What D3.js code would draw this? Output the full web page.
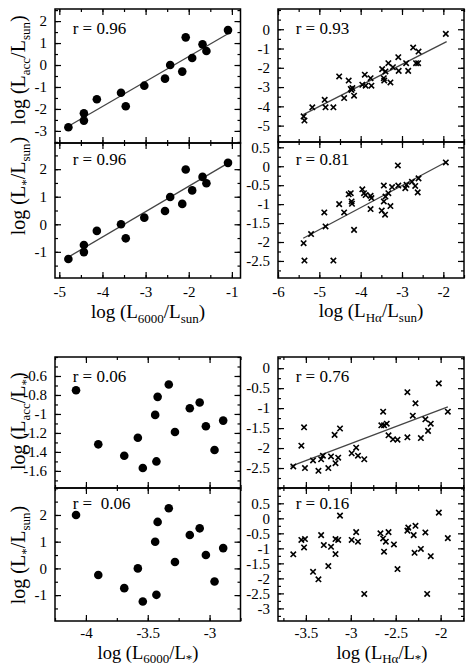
<!DOCTYPE html>
<html>
<head>
<meta charset="utf-8">
<script src="https://cdn.jsdelivr.net/npm/d3@7"></script>
<style>
body { margin:0; background:#fff; }
svg { display:block; }
svg text { font-family:"Liberation Serif","Times New Roman",Times,"DejaVu Serif",serif; }
</style>
</head>
<body>
<svg id="drawing_region"></svg>
<script>
// ---- data ----
// top-left pair: log(L6000/Lsun) vs log(Lacc/Lsun) and log(L*/Lsun)
const l6000Sun = [-4.79,-4.43,-4.43,-4.13,-3.57,-3.46,-3.03,-2.55,-2.43,-2.15,-2.07,-1.92,-1.68,-1.59,-1.09];
const accSun   = [-2.83,-2.20,-2.53,-1.56,-1.26,-1.88,-0.94,-0.62,0.00,-0.30,1.26,0.32,0.94,0.64,1.59];
const starSun  = [-1.26,-0.75,-1.01,-0.24,0.00,-0.51,0.24,0.48,0.99,0.74,1.99,1.23,1.72,1.49,2.23];
const fitAccSun  = [[-4.8,-2.8],[-1.05,1.47]];
const fitStarSun = [[-4.8,-1.2],[-1.0,2.3]];

// top-right pair: log(LHa/Lsun)
const haSunC  = [-5.38,-5.36,-5.17,-4.87,-4.85,-4.66,-4.52,-4.40,-4.29,-4.24,-4.22,-4.20,-4.16,-3.96,-3.90,-3.88,-3.76,-3.74,-3.48,-3.44,-3.43,-3.40,-3.33,-3.28,-3.22,-3.09,-3.08,-2.90,-2.85,-2.73,-2.66,-2.61,-2.60,-1.94];
const accSunC = [-4.52,-4.74,-4.05,-3.66,-4.05,-4.05,-2.45,-3.57,-2.66,-3.10,-3.15,-3.05,-3.45,-2.88,-2.36,-2.93,-2.54,-2.93,-2.07,-2.54,-2.66,-2.19,-1.76,-2.76,-1.97,-1.45,-2.16,-1.76,-2.16,-0.95,-1.76,-1.76,-1.16,-0.24];
const fitHaAcc = [[-5.39,-4.43],[-1.92,-0.64]];
const haSunD   = [-5.38,-5.36,-5.20,-4.88,-4.85,-4.66,-4.52,-4.40,-4.29,-4.24,-4.22,-4.21,-4.16,-3.96,-3.92,-3.88,-3.76,-3.76,-3.74,-3.49,-3.44,-3.44,-3.41,-3.40,-3.33,-3.28,-3.24,-3.10,-3.09,-2.92,-2.89,-2.76,-2.68,-2.62,-2.60,-1.94];
const starSunD = [-2.03,-2.49,-1.79,-1.22,-1.59,-2.49,-1.00,-1.22,-0.74,-0.71,-0.93,-0.99,-1.68,-0.61,-0.71,-0.76,-0.78,-1.13,-0.84,-1.17,-0.51,-0.93,-1.28,-0.80,-0.71,-1.05,-0.55,0.02,-0.51,-0.58,-0.49,-0.41,-0.52,-0.69,-0.32,0.10];
const fitHaStar = [[-5.39,-1.90],[-1.92,0.12]];

// bottom-left pair: log(L6000/L*)
const l6000Star = [-4.08,-3.90,-3.69,-3.58,-3.54,-3.44,-3.42,-3.43,-3.33,-3.28,-3.16,-3.08,-3.03,-2.96,-2.89];
const accStar   = [-0.75,-1.32,-1.44,-1.25,-1.57,-1.01,-0.82,-1.50,-0.69,-1.19,-0.94,-0.88,-1.13,-1.38,-1.07];
const starSunF  = [2.00,-0.25,-0.74,0.00,-1.24,1.00,1.74,-0.99,2.25,0.24,1.25,1.50,0.50,-0.49,0.76];

// bottom-right pair: log(LHa/L*)
const haStarG  = [-3.64,-3.55,-3.52,-3.51,-3.42,-3.36,-3.33,-3.31,-3.25,-3.22,-3.18,-3.17,-3.14,-3.12,-2.99,-2.94,-2.92,-2.85,-2.66,-2.64,-2.63,-2.60,-2.58,-2.53,-2.48,-2.37,-2.37,-2.31,-2.28,-2.22,-2.17,-2.14,-2.11,-2.02,-1.92];
const accStarG = [-2.46,-1.94,-1.48,-2.50,-2.31,-2.57,-2.28,-2.19,-2.50,-2.21,-1.67,-2.38,-2.24,-1.51,-2.13,-1.99,-2.19,-2.28,-1.43,-1.09,-1.43,-1.39,-1.68,-1.78,-1.79,-0.60,-1.73,-1.19,-0.88,-1.75,-1.28,-1.57,-1.39,-0.38,-1.09];
const fitHaStarAcc = [[-3.67,-2.46],[-1.92,-0.97]];
const haStarH   = [-3.64,-3.55,-3.51,-3.52,-3.42,-3.36,-3.33,-3.30,-3.25,-3.22,-3.17,-3.17,-3.14,-3.12,-2.99,-2.94,-2.92,-2.85,-2.67,-2.64,-2.63,-2.61,-2.58,-2.52,-2.48,-2.37,-2.36,-2.30,-2.28,-2.29,-2.22,-2.17,-2.15,-2.11,-2.02,-1.92];
const starSunH  = [-1.20,-0.72,-0.69,-0.97,-1.78,-2.03,-0.56,-0.89,-1.59,-0.95,-1.19,-0.69,-0.72,0.09,-0.72,-0.46,-0.78,-2.52,-0.50,-0.67,-1.11,-0.78,-0.46,-0.87,-1.69,-0.41,-0.31,-0.56,-0.25,-1.15,-1.02,-0.47,-2.52,-1.26,0.19,-0.66];

// correlation labels
const rLabels = ["r = 0.96","r = 0.96","r = 0.93","r = 0.81","r = 0.06","r =  0.06","r = 0.76","r = 0.16"];

// tick labels
const xTicks6000Sun = [-5,-4,-3,-2,-1];
const xTicksHaSun   = [-6,-5,-4,-3,-2];
const xTicks6000Star = [-4,-3.5,-3];
const xTicksHaStar   = [-3.5,-3,-2.5,-2];
const yTicksA = [-3,-2,-1,0,1,2];
const yTicksB = [-1,0,1,2];
const yTicksC = [-5,-4,-3,-2,-1,0];
const yTicksD = [-2.5,-2,-1.5,-1,-0.5,0,0.5];
const yTicksE = [-1.6,-1.4,-1.2,-1,-0.8,-0.6];
const yTicksF = [-1,0,1,2];
const yTicksG = [-2.5,-2,-1.5,-1,-0.5,0];
const yTicksH = [-3,-2.5,-2,-1.5,-1,-0.5,0,0.5];

// axis titles: [text, isSubscript]
const xTitleTL = [["log (L",0],["6000",1],["/L",0],["sun",1],[")",0]];
const xTitleTR = [["log (L",0],["H\u03b1",1],["/L",0],["sun",1],[")",0]];
const xTitleBL = [["log (L",0],["6000",1],["/L",0],["*",1],[")",0]];
const xTitleBR = [["log (L",0],["H\u03b1",1],["/L",0],["*",1],[")",0]];
const yTitleA = [["log (L",0],["acc",1],["/L",0],["sun",1],[")",0]];
const yTitleB = [["log (L",0],["*",1],["/L",0],["sun",1],[")",0]];
const yTitleE = [["log (L",0],["acc",1],["/L",0],["*",1],[")",0]];
const yTitleF = [["log (L",0],["*",1],["/L",0],["sun",1],[")",0]];

// ---- layout ----
const W = 469, H = 665;
const LX = [55, 240.5], RX = [278, 464];
const serif = '"Liberation Serif","Times New Roman",Times,"DejaVu Serif",serif';

const panels = [
  {x:LX, y:[9,143],   xd:[-5.1,-0.8],  yd:[-3.55,2.55], xs:l6000Sun, ys:accSun, mark:'dot', fit:fitAccSun, r:rLabels[0], rdy:25, xt:xTicks6000Sun, xm:0.5, yt:yTicksA, ym:0.5, xlab:false},
  {x:LX, y:[143,278], xd:[-5.1,-0.8],  yd:[-1.95,2.95], xs:l6000Sun, ys:starSun, mark:'dot', fit:fitStarSun, r:rLabels[1], rdy:22, xt:xTicks6000Sun, xm:0.5, yt:yTicksB, ym:0.5, xlab:true, xpad:8},
  {x:RX, y:[9,142],   xd:[-6,-1.5],    yd:[-5.85,1.05], xs:haSunC, ys:accSunC, mark:'x', fit:fitHaAcc, r:rLabels[2], rdy:25, xt:xTicksHaSun, xm:0.5, yt:yTicksC, ym:0.5, xlab:false},
  {x:RX, y:[142,278], xd:[-6,-1.5],    yd:[-2.95,0.64], xs:haSunD, ys:starSunD, mark:'x', fit:fitHaStar, r:rLabels[3], rdy:23, xt:xTicksHaSun, xm:0.5, yt:yTicksD, ym:0.25, xlab:true, xpad:8},
  {x:LX, y:[357,488], xd:[-4.25,-2.75], yd:[-1.78,-0.4], xs:l6000Star, ys:accStar, mark:'dot', fit:null, r:rLabels[4], rdy:25, xt:xTicks6000Star, xm:0.25, yt:yTicksE, ym:0.1, xlab:false},
  {x:LX, y:[488,621], xd:[-4.25,-2.75], yd:[-1.97,3.01], xs:l6000Star, ys:starSunF, mark:'dot', fit:null, r:rLabels[5], rdy:21, xt:xTicks6000Star, xm:0.25, yt:yTicksF, ym:0.5, xlab:true, xpad:6.5},
  {x:RX, y:[357,488], xd:[-3.81,-1.74], yd:[-3,0.28],   xs:haStarG, ys:accStarG, mark:'x', fit:fitHaStarAcc, r:rLabels[6], rdy:25, xt:xTicksHaStar, xm:0.25, yt:yTicksG, ym:0.25, xlab:false},
  {x:RX, y:[488,621], xd:[-3.81,-1.74], yd:[-3.42,1.01], xs:haStarH, ys:starSunH, mark:'x', fit:null, r:rLabels[7], rdy:21, xt:xTicksHaStar, xm:0.25, yt:yTicksH, ym:0.25, xlab:true, xpad:6.5}
];

const svg = d3.select('#drawing_region').attr('width', W).attr('height', H);

function minorVals(d, step) {
  const lo = Math.ceil(d[0]/step - 1e-9), hi = Math.floor(d[1]/step + 1e-9);
  return d3.range(lo, hi + 1).map(i => +(i*step).toFixed(4));
}

function addParts(text, parts) {
  parts.forEach((p, i) => {
    const prevSub = i > 0 && parts[i-1][1];
    const ts = text.append('tspan').text(p[0]);
    if (p[1]) ts.attr('font-size', 13).attr('dy', 4.5);
    else if (prevSub) ts.attr('dy', -4.5);
  });
}

panels.forEach(p => {
  const w = p.x[1] - p.x[0], h = p.y[1] - p.y[0];
  const g = svg.append('g').attr('transform', `translate(${p.x[0]},${p.y[0]})`);
  const xscale = d3.scaleLinear().domain(p.xd).range([0, w]);
  const yscale = d3.scaleLinear().domain(p.yd).range([h, 0]);

  const fmt = d => String(d);
  const axes = [
    [d3.axisBottom, xscale, `translate(0,${h})`, 'x'],
    [d3.axisTop, xscale, null, 'x'],
    [d3.axisLeft, yscale, null, 'y'],
    [d3.axisRight, yscale, `translate(${w},0)`, 'y']
  ];
  axes.forEach(([fn, sc, tr, dim]) => {
    const minor = fn(sc).tickValues(minorVals(sc.domain(), dim === 'x' ? p.xm : p.ym))
      .tickSizeInner(-3).tickSizeOuter(0).tickFormat('');
    const ga = g.append('g').attr('transform', tr).call(minor);
    ga.select('.domain').remove();
    const labelled = (fn === d3.axisLeft) || (fn === d3.axisBottom && p.xlab);
    const major = fn(sc).tickValues(dim === 'x' ? p.xt : p.yt)
      .tickSizeInner(-6).tickSizeOuter(0)
      .tickPadding(fn === d3.axisBottom && p.xpad ? p.xpad : 8)
      .tickFormat(labelled ? fmt : '');
    const gb = g.append('g').attr('transform', tr).call(major)
      .attr('font-family', serif).attr('font-size', 15);
    gb.select('.domain').remove();
    [ga, gb].forEach(s => s.selectAll('line').attr('stroke', '#000').attr('stroke-width', 1.2));
    gb.selectAll('text').attr('fill', '#000');
  });

  g.append('rect').attr('width', w).attr('height', h)
    .attr('fill', 'none').attr('stroke', '#000').attr('stroke-width', 1.5);

  if (p.fit) {
    g.append('line')
      .attr('x1', xscale(p.fit[0][0])).attr('y1', yscale(p.fit[0][1]))
      .attr('x2', xscale(p.fit[1][0])).attr('y2', yscale(p.fit[1][1]))
      .attr('stroke', '#444').attr('stroke-width', 1.3);
  }

  const pts = p.xs.map((v, i) => ({x: v, y: p.ys[i]}));
  if (p.mark === 'dot') {
    g.selectAll('circle').data(pts).enter().append('circle')
      .attr('cx', d => xscale(d.x)).attr('cy', d => yscale(d.y))
      .attr('r', 4.3).attr('fill', '#000');
  } else {
    g.selectAll('path.mk').data(pts).enter().append('path')
      .attr('class', 'mk')
      .attr('d', 'M-2.7,-2.7L2.7,2.7M-2.7,2.7L2.7,-2.7')
      .attr('transform', d => `translate(${xscale(d.x)},${yscale(d.y)})`)
      .attr('stroke', '#000').attr('stroke-width', 1.6);
  }

  g.append('text').attr('x', 17.7).attr('y', p.rdy)
    .attr('font-family', serif).attr('font-size', 17)
    .style('white-space', 'pre')
    .text(p.r);
});

// x axis titles
[[xTitleTL, 148, 318, 19], [xTitleTR, 371, 317, 19], [xTitleBL, 148, 658.5, 18.5], [xTitleBR, 382, 658.5, 18.5]].forEach(([parts, x, y, fs]) => {
  const t = svg.append('text').attr('x', x).attr('y', y)
    .attr('text-anchor', 'middle').attr('font-family', serif).attr('font-size', fs);
  addParts(t, parts);
});

// y axis titles (rotated)
svg.append('clipPath').attr('id', 'clipE')
  .append('rect').attr('x', 0).attr('y', 352).attr('width', 60).attr('height', 140);

[[yTitleA, 70, 'middle', null], [yTitleB, 186, 'middle', null], [yTitleE, 470, 'start', 'url(#clipE)'], [yTitleF, 555, 'middle', null]]
  .forEach(([parts, y, anchor, clip]) => {
    const holder = svg.append('g').attr('clip-path', clip);
    const t = holder.append('text')
      .attr('transform', `translate(25,${y}) rotate(-90)`)
      .attr('text-anchor', anchor).attr('font-family', serif).attr('font-size', 20);
    addParts(t, parts);
  });
</script>
</body>
</html>
